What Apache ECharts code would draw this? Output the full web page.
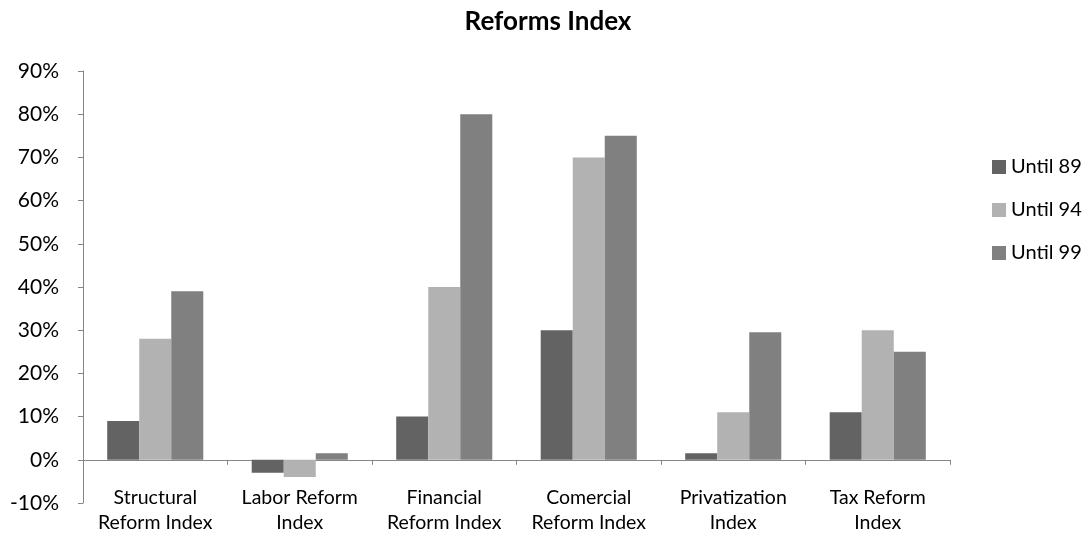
<!DOCTYPE html>
<html>
<head>
<meta charset="utf-8">
<script src="https://cdn.jsdelivr.net/npm/echarts@6/dist/echarts.min.js"></script>
<style>html,body{margin:0;padding:0;background:#fff}#c{width:1087px;height:535px}</style>
</head>
<body>
<div id="c"></div>
<script>
var categories = ["Structural\nReform Index", "Labor Reform\nIndex", "Financial\nReform Index", "Comercial\nReform Index", "Privatization\nIndex", "Tax Reform\nIndex"];
var seriesNames = ["Until 89", "Until 94", "Until 99"];
var until89 = [9, -3, 10, 30, 1.5, 11];
var until94 = [28, -4, 40, 70, 11, 30];
var until99 = [39, 1.5, 80, 75, 29.5, 25];
var colors = ["#636363", "#b2b2b2", "#808080"];
var yMin = -10, yMax = 90, yStep = 10;

var font = "Lato, 'Open Sans', sans-serif";
var chart = echarts.init(document.getElementById('c'), null, {renderer: 'canvas'});
var data = [until89, until94, until99];
chart.setOption({
  animation: false,
  textStyle: {fontFamily: font},
  title: {
    text: "Reforms Index", left: 548, textAlign: 'center', top: 9, padding: 0,
    textStyle: {fontFamily: font, fontSize: 26, fontWeight: 'bold', color: '#000'}
  },
  legend: {
    orient: 'vertical', left: 987, top: 152,
    itemWidth: 14, itemHeight: 14, itemGap: 23,
    icon: 'rect',
    textStyle: {fontFamily: font, fontSize: 20, color: '#000'},
    data: seriesNames
  },
  grid: {left: 83, right: 137, top: 71, bottom: 32, containLabel: false, outerBoundsMode: 'none'},
  xAxis: {
    type: 'category', data: categories,
    axisLine: {onZero: true, lineStyle: {color: '#868686', width: 1}},
    axisTick: {show: true, length: 5, interval: 0, lineStyle: {color: '#868686'}},
    axisLabel: {interval: 0, margin: -18, fontFamily: font, fontSize: 19.5, color: '#000', lineHeight: 25}
  },
  yAxis: {
    type: 'value', min: yMin, max: yMax, interval: yStep,
    axisLine: {show: true, lineStyle: {color: '#868686'}},
    axisTick: {show: true, length: 5, lineStyle: {color: '#868686'}},
    splitLine: {show: false},
    axisLabel: {formatter: '{value}%', margin: 24, fontFamily: font, fontSize: 21, color: '#000'}
  },
  series: seriesNames.map(function (n, i) {
    return {
      name: n, type: 'bar', data: data[i],
      barGap: '0%', barCategoryGap: '33.5%',
      itemStyle: {color: colors[i]}
    };
  })
});
</script>
</body>
</html>
